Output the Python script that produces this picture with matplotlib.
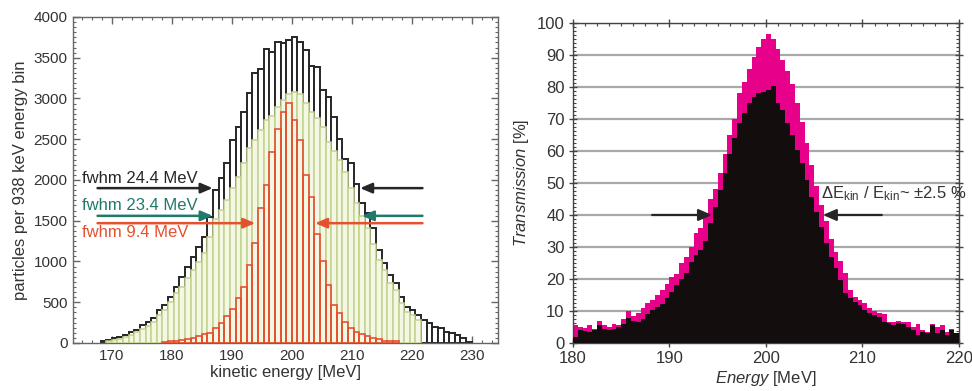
import numpy as np
import matplotlib
matplotlib.use('Agg')
import matplotlib.pyplot as plt
from matplotlib.ticker import MultipleLocator

plt.rcParams['font.family'] = ['Liberation Sans', 'DejaVu Sans']
plt.rcParams['mathtext.fontset'] = 'custom'
plt.rcParams['mathtext.rm'] = 'Liberation Sans'
plt.rcParams['mathtext.it'] = 'Liberation Sans:italic'
plt.rcParams['mathtext.bf'] = 'Liberation Sans:bold'

# ---------------- left panel data (bins of 938 keV, index k -> 200 + k*0.938 MeV) ----
bin_width_left = 0.938
black_first_bin = -34
black_counts = [25, 40, 60, 75, 100, 135, 160, 220, 260, 305, 405, 465, 565, 690,
                810, 935, 1060, 1180, 1300, 1550, 1880, 2020, 2207, 2490, 2650, 2835,
                3070, 3315, 3360, 3607, 3570, 3695, 3680, 3720, 3760, 3690, 3590, 3400,
                3390, 3110, 3020, 2770, 2500, 2260, 2210, 1955, 1713, 1590, 1407, 1140,
                976, 833, 730, 567, 445, 404, 343, 282, 240, 200, 180, 140, 118, 98, 57, 16]
green_first_bin = -33
green_counts = [25, 40, 55, 75, 95, 130, 170, 210, 255, 340, 400, 500, 610, 690, 795,
                900, 990, 1100, 1300, 1520, 1630, 1755, 1900, 2040, 2210, 2390, 2490,
                2615, 2740, 2780, 2900, 2980, 3050, 3080, 3060, 2945, 2840, 2760, 2655,
                2470, 2350, 2245, 2100, 1900, 1715, 1560, 1405, 1220, 1020, 895, 730,
                650, 485, 385, 345, 280]
red_first_bin = -23
red_counts = [15, 20, 25, 40, 55, 65, 85, 105, 125, 180, 240, 330, 420, 550, 690, 960,
              1225, 1655, 1940, 2340, 2620, 2840, 2945, 2740, 2490, 2060, 1790, 1340,
              1010, 715, 460, 365, 260, 185, 130, 105, 85, 65, 45, 30, 25, 20]

left_xticks = [170, 180, 190, 200, 210, 220, 230]
left_yticks = [0, 500, 1000, 1500, 2000, 2500, 3000, 3500, 4000]

# fwhm annotations: (label, colour, y level, left tip, right tip)
fwhm_labels = ['fwhm 24.4 MeV', 'fwhm 23.4 MeV', 'fwhm 9.4 MeV']
fwhm_colors = ['#262626', '#1f7a6c', '#e5502e']
fwhm_levels = [1900, 1560, 1470]
fwhm_left_tips = [186.8, 186.8, 193.9]
fwhm_right_tips = [211.4, 211.7, 203.9]
fwhm_text_y = [2020, 1690, 1350]

# ---------------- right panel data (0.5 MeV bins from 180 MeV) ----------------------
right_bin_start = 180.0
right_bin_width = 0.5
transmission_total = [5.5, 5.0, 4.8, 5.5, 4.5, 7.0, 5.5, 5.0, 6.0, 5.5,
                      7.5, 10.0, 8.5, 9.5, 11.0, 12.5, 13.5, 15.0, 16.5, 18.5,
                      20.5, 21.5, 25.0, 27.0, 30.0, 34.5, 36.0, 40.0, 45.0, 48.0,
                      53.0, 59.0, 65.0, 70.0, 78.0, 81.5, 85.5, 89.5, 92.5, 95.0,
                      96.5, 95.0, 92.0, 88.5, 85.0, 81.0, 75.0, 69.0, 62.5, 55.5,
                      49.0, 43.0, 38.0, 32.5, 28.5, 25.5, 22.0, 16.5, 14.5, 13.5,
                      12.5, 11.0, 10.0, 9.5, 9.0, 6.5, 6.5, 7.0, 6.5, 6.5,
                      5.0, 6.0, 4.0, 3.5, 6.0, 5.0, 5.5, 3.5, 4.5, 3.0]
transmission_core = [2.0, 4.0, 3.8, 3.4, 4.0, 5.5, 4.5, 4.0, 4.5, 5.0,
                     6.0, 7.9, 7.0, 6.6, 7.6, 9.0, 10.2, 11.2, 12.3, 14.2,
                     16.0, 18.0, 20.0, 22.0, 25.3, 27.4, 29.0, 32.0, 37.5, 42.6,
                     47.8, 53.0, 59.0, 64.0, 68.6, 72.0, 75.0, 77.0, 78.0, 78.5,
                     79.0, 80.3, 74.9, 72.8, 68.6, 65.0, 60.3, 56.1, 50.9, 45.7,
                     41.0, 36.4, 31.1, 27.0, 23.3, 19.7, 15.5, 14.0, 12.9, 11.9,
                     10.3, 9.3, 8.8, 8.2, 6.7, 6.1, 5.6, 6.1, 5.9, 5.0,
                     4.0, 2.4, 3.5, 3.0, 5.6, 3.0, 4.0, 2.4, 4.0, 3.0]
right_xticks = [180, 190, 200, 210, 220]
right_yticks = [0, 10, 20, 30, 40, 50, 60, 70, 80, 90, 100]
spread_label = r'$\Delta$E$_{\mathrm{kin}}$ / E$_{\mathrm{kin}}$~ ±2.5 %'

# ---------------------------------------------------------------------------------
fig = plt.figure(figsize=(9.72, 3.91), dpi=100)
axL = fig.add_axes([0.0751, 0.1228, 0.4372, 0.8338])
axR = fig.add_axes([0.5895, 0.1228, 0.3971, 0.8184])

tick_col = '#333333'

# left panel histograms
def centers(first, n):
    return 200 + (np.arange(n) + first + 0.5) * bin_width_left

axL.bar(centers(black_first_bin, len(black_counts)), black_counts, width=bin_width_left,
        facecolor='white', edgecolor='#262626', linewidth=1.4, zorder=2)
axL.bar(centers(green_first_bin, len(green_counts)), green_counts, width=bin_width_left,
        facecolor='#f4f7e3', edgecolor='#c2d38f', linewidth=1.1, zorder=3)
axL.bar(centers(red_first_bin, len(red_counts)), red_counts, width=bin_width_left,
        facecolor='none', edgecolor='#e5502e', linewidth=1.2, zorder=4)

for lab, col, lev, lt, rt, ty in zip(fwhm_labels, fwhm_colors, fwhm_levels,
                                     fwhm_left_tips, fwhm_right_tips, fwhm_text_y):
    ap = dict(arrowstyle='-|>,head_length=0.7,head_width=0.3', color=col, lw=1.8,
              shrinkA=0, shrinkB=0)
    axL.annotate('', xy=(lt, lev), xytext=(167.6, lev), arrowprops=ap, zorder=6)
    axL.annotate('', xy=(rt, lev), xytext=(221.8, lev), arrowprops=ap, zorder=6)
    axL.text(165.0, ty, lab, color=col, fontsize=12, va='center', ha='left', zorder=7)

axL.set_xlim(163.5, 234.4)
axL.set_ylim(0, 4000)
axL.set_xticks(left_xticks)
axL.set_yticks(left_yticks)
axL.xaxis.set_minor_locator(MultipleLocator(10 / 6))
axL.yaxis.set_minor_locator(MultipleLocator(62.5))
axL.tick_params(which='both', direction='in', top=True, right=True, colors='#666666',
                labelcolor=tick_col, labelsize=11)
axL.tick_params(which='major', length=5, width=1.0, pad=4)
axL.tick_params(which='minor', length=2.5, width=0.8)
for s in axL.spines.values():
    s.set_color('#666666')
    s.set_linewidth(1.0)
axL.set_xlabel('kinetic energy [MeV]', fontsize=12, color=tick_col, labelpad=2)
axL.set_ylabel('particles per 938 keV energy bin', fontsize=12, color=tick_col, labelpad=4)

# right panel
edges = right_bin_start + np.arange(len(transmission_total) + 1) * right_bin_width
axR.set_axisbelow(True)
axR.yaxis.grid(True, color='#a8a8a8', linewidth=1.6)
axR.stairs(transmission_total, edges, fill=True, color='#e6008a', zorder=2)
axR.stairs(transmission_core, edges, fill=True, color='#130d0d', zorder=3)

apR = dict(arrowstyle='-|>,head_length=0.8,head_width=0.35', color='#262626', lw=1.6,
           shrinkA=0, shrinkB=0)
axR.annotate('', xy=(194.4, 40), xytext=(188.2, 40), arrowprops=apR, zorder=5)
axR.annotate('', xy=(205.9, 40), xytext=(212.0, 40), arrowprops=apR, zorder=5)
axR.text(205.7, 46.8, spread_label, fontsize=12, color=tick_col, ha='left', va='center',
         zorder=6)

axR.set_xlim(180, 220)
axR.set_ylim(0, 100)
axR.set_xticks(right_xticks)
axR.set_yticks(right_yticks)
axR.xaxis.set_minor_locator(MultipleLocator(1.25))
axR.yaxis.set_minor_locator(MultipleLocator(1.25))
axR.tick_params(which='both', direction='in', top=True, right=True, colors='#444444',
                labelcolor=tick_col, labelsize=12)
axR.tick_params(which='major', length=6, width=1.0, direction='inout', pad=3)
axR.tick_params(which='minor', length=2.5, width=0.8)
for s in axR.spines.values():
    s.set_color('#444444')
    s.set_linewidth(1.0)
axR.set_xlabel(r'$\mathit{Energy}$ [MeV]', fontsize=12, color=tick_col, labelpad=2)
axR.set_ylabel(r'$\mathit{Transmission}$ [%]', fontsize=12, color=tick_col, labelpad=4)

fig.savefig('out.png', dpi=100)
